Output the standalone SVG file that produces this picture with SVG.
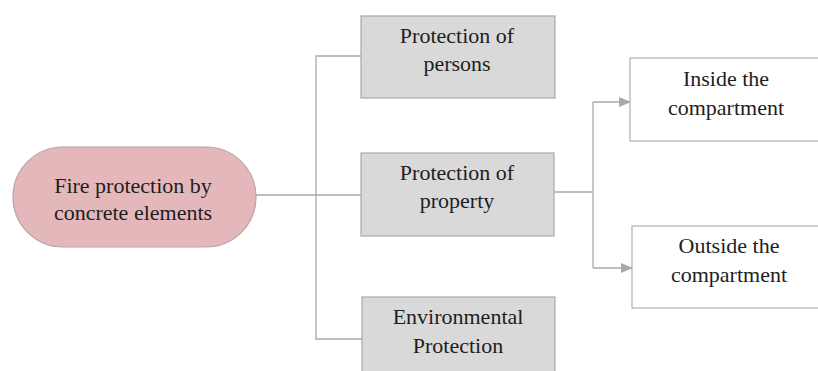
<svg xmlns="http://www.w3.org/2000/svg" width="818" height="371" viewBox="0 0 818 371">
<style>
.t{font-family:'Liberation Serif','DejaVu Serif',serif;font-size:22px;fill:#1e1e1e;text-anchor:middle}
.g{fill:#d9d9d9;stroke:#a9a9a9;stroke-width:1.2}
.w{fill:#ffffff;stroke:#b0b0b0;stroke-width:1.2}
.c{fill:none;stroke:#a9a9a9;stroke-width:1.3}
</style>
<defs>
<marker id="ah" markerWidth="12" markerHeight="10" refX="11" refY="5" orient="auto" markerUnits="userSpaceOnUse">
<path d="M0,0 L12,5 L0,10 Z" fill="#a9a9a9"/>
</marker>
</defs>
<rect width="818" height="371" fill="#ffffff"/>
<g id="connectors">
<path class="c" d="M256,195 H361"/>
<path class="c" d="M361,56 H316 V339 H362"/>
<path class="c" d="M554,192 H593"/>
<path class="c" d="M593,102 V268" />
<path class="c" d="M593,102 H630" marker-end="url(#ah)"/>
<path class="c" d="M593,268 H632" marker-end="url(#ah)"/>
</g>
<g id="root">
<rect x="13" y="147" width="243" height="100" rx="50" ry="50" fill="#e4b8ba" stroke="#b8a3a4" stroke-width="1.2"/>
<text class="t" x="133" y="193" font-family="Liberation Serif, serif">Fire protection by</text>
<text class="t" x="133" y="220" font-family="Liberation Serif, serif">concrete elements</text>
</g>
<g id="persons">
<rect class="g" x="361" y="16" width="194" height="82"/>
<text class="t" x="457" y="43" font-family="Liberation Serif, serif">Protection of</text>
<text class="t" x="457" y="71" font-family="Liberation Serif, serif">persons</text>
</g>
<g id="property">
<rect class="g" x="361" y="153" width="193" height="83"/>
<text class="t" x="457" y="180" font-family="Liberation Serif, serif">Protection of</text>
<text class="t" x="457" y="208" font-family="Liberation Serif, serif">property</text>
</g>
<g id="environmental">
<rect class="g" x="362" y="297" width="193" height="82"/>
<text class="t" x="458" y="324" font-family="Liberation Serif, serif">Environmental</text>
<text class="t" x="458" y="353" font-family="Liberation Serif, serif">Protection</text>
</g>
<g id="inside">
<rect class="w" x="630" y="58" width="194" height="83"/>
<text class="t" x="726" y="86" font-family="Liberation Serif, serif">Inside the</text>
<text class="t" x="726" y="115" font-family="Liberation Serif, serif">compartment</text>
</g>
<g id="outside">
<rect class="w" x="632" y="226" width="194" height="82"/>
<text class="t" x="729" y="253" font-family="Liberation Serif, serif">Outside the</text>
<text class="t" x="729" y="282" font-family="Liberation Serif, serif">compartment</text>
</g>
</svg>
